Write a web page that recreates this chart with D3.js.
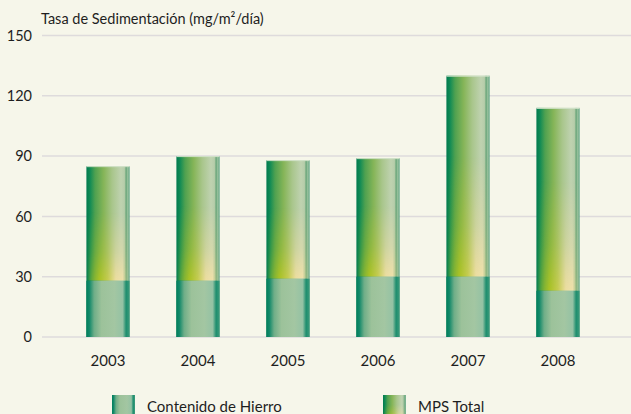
<!DOCTYPE html>
<html>
<head>
<meta charset="utf-8">
<script src="https://cdn.jsdelivr.net/npm/d3@7"></script>
<style>
  html, body { margin: 0; padding: 0; background: #f6f6ea; }
  svg { display: block; font-family: Lato, "Open Sans", sans-serif; }
</style>
</head>
<body>
<div id="chart"></div>
<script>
// data
const years = ['2003', '2004', '2005', '2006', '2007', '2008']
const mpsTotal = [85, 90, 88, 89, 130, 114]
const hierro = [28, 28, 29, 30, 30, 23]
const yTicks = [0, 30, 60, 90, 120, 150]
const legendLabels = ['Contenido de Hierro', 'MPS Total']

const width = 631
const height = 414

const svg = d3.select('#chart')
  .append('svg')
  .attr('width', width)
  .attr('height', height)

svg.append('rect')
  .attr('width', width)
  .attr('height', height)
  .attr('fill', '#f6f6ea')

const defs = svg.append('defs')

const addStops = (grad, stops) => stops.forEach(s => grad.append('stop')
  .attr('offset', s[0])
  .attr('stop-color', s[1])
  .attr('stop-opacity', s[2] === undefined ? 1 : s[2]))

// horizontal gradient for the MPS total bar
addStops(defs.append('linearGradient').attr('id', 'mpsH')
  .attr('x1', 0).attr('x2', 1).attr('y1', 0).attr('y2', 0), [
  [0, '#007a4e'], [0.08, '#0f8a55'], [0.2, '#4fa150'], [0.4, '#86b558'],
  [0.6, '#a9c68c'], [0.8, '#bfd2b0'], [0.88, '#b6cdaa'], [0.92, '#6aa67a'],
  [0.96, '#9ec4a2'], [1, '#4f9c78']
])

// yellow glow, masked so it only shows near the bottom
addStops(defs.append('linearGradient').attr('id', 'yelH')
  .attr('x1', 0).attr('x2', 1).attr('y1', 0).attr('y2', 0), [
  [0, '#7aaa30', 0], [0.1, '#90b828', 0.5], [0.3, '#aac224', 1], [0.5, '#c6cc50', 1],
  [0.68, '#ecdda0', 1], [0.84, '#efe0aa', 1], [0.92, '#b8c680', 0.5], [1, '#a0bc80', 0]
])

addStops(defs.append('linearGradient').attr('id', 'fadeV')
  .attr('x1', 0).attr('x2', 0).attr('y1', 0).attr('y2', 1), [
  [0, '#fff', 0], [0.4, '#fff', 0], [0.75, '#fff', 0.45], [1, '#fff', 1]
])

defs.append('mask')
  .attr('id', 'yelMask')
  .attr('maskContentUnits', 'objectBoundingBox')
  .append('rect')
  .attr('width', 1)
  .attr('height', 1)
  .attr('fill', 'url(#fadeV)')

// iron content bar
addStops(defs.append('linearGradient').attr('id', 'feH')
  .attr('x1', 0).attr('x2', 1).attr('y1', 0).attr('y2', 0), [
  [0, '#007e5c'], [0.07, '#13896a'], [0.18, '#6fae88'], [0.35, '#9cc29a'],
  [0.65, '#a3c6a2'], [0.84, '#94c2a4'], [0.92, '#1e8e6e'], [1, '#3c9b7c']
])

const x = d3.scaleBand()
  .domain(years)
  .range([63, 603])
  .paddingInner(0.52)
  .paddingOuter(0.26)

const y = d3.scaleLinear()
  .domain([0, 150])
  .range([337, 35.5])

// grid
svg.append('g')
  .selectAll('line')
  .data(yTicks)
  .enter()
  .append('line')
  .attr('x1', 42)
  .attr('x2', width)
  .attr('y1', d => y(d))
  .attr('y2', d => y(d))
  .attr('stroke', '#dedbdc')
  .attr('stroke-width', 1.5)

// y tick labels
svg.append('g')
  .selectAll('text')
  .data(yTicks)
  .enter()
  .append('text')
  .attr('x', 32)
  .attr('y', d => y(d))
  .attr('dy', '0.36em')
  .attr('text-anchor', 'end')
  .attr('font-size', 14.5)
  .attr('fill', '#1e1e1e')
  .text(d => d)

svg.append('text')
  .attr('x', 41)
  .attr('y', 24)
  .attr('font-size', 14.5)
  .attr('fill', '#1e1e1e')
  .text('Tasa de Sedimentación (mg/m²/día)')

// bars
const bars = svg.append('g')
  .selectAll('g')
  .data(years.map((yr, i) => ({yr, total: mpsTotal[i], fe: hierro[i]})))
  .enter()
  .append('g')
  .attr('transform', d => `translate(${x(d.yr)}, 0)`)

bars.append('rect')
  .attr('y', d => y(d.total))
  .attr('width', x.bandwidth())
  .attr('height', d => y(0) - y(d.total))
  .attr('fill', 'url(#mpsH)')

bars.append('rect')
  .attr('y', d => y(d.total))
  .attr('width', x.bandwidth())
  .attr('height', d => y(d.fe) - y(d.total))
  .attr('fill', 'url(#yelH)')
  .attr('mask', 'url(#yelMask)')

bars.append('rect')
  .attr('y', d => y(d.fe))
  .attr('width', x.bandwidth())
  .attr('height', d => y(0) - y(d.fe))
  .attr('fill', 'url(#feH)')

bars.append('line')
  .attr('x1', 0)
  .attr('x2', x.bandwidth())
  .attr('y1', d => y(d.total) + 0.5)
  .attr('y2', d => y(d.total) + 0.5)
  .attr('stroke', '#d2e2ca')
  .attr('stroke-width', 1)

// x labels
svg.append('g')
  .selectAll('text')
  .data(years)
  .enter()
  .append('text')
  .attr('x', d => x(d) + x.bandwidth() / 2)
  .attr('y', 366)
  .attr('text-anchor', 'middle')
  .attr('font-size', 15)
  .attr('fill', '#1e1e1e')
  .text(d => d)

// legend
const legend = svg.append('g')
  .selectAll('g')
  .data(legendLabels)
  .enter()
  .append('g')
  .attr('transform', (d, i) => `translate(${[112, 383][i]}, 395)`)

legend.append('rect')
  .attr('width', 23)
  .attr('height', 24)
  .attr('fill', (d, i) => i === 0 ? 'url(#feH)' : 'url(#mpsH)')

legend.filter((d, i) => i === 1).append('rect')
  .attr('width', 23)
  .attr('height', 24)
  .attr('fill', 'url(#yelH)')
  .attr('mask', 'url(#yelMask)')

legend.append('text')
  .attr('x', 35)
  .attr('y', 17)
  .attr('font-size', 15)
  .attr('fill', '#1e1e1e')
  .text(d => d)
</script>
</body>
</html>
